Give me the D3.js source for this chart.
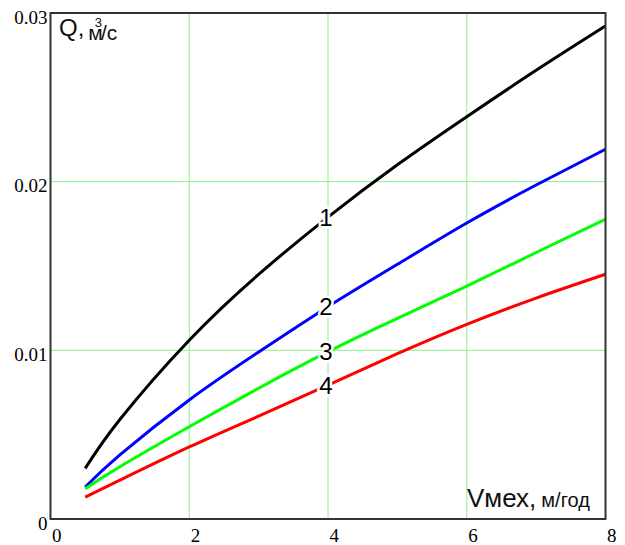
<!DOCTYPE html>
<html>
<head>
<meta charset="utf-8">
<script src="https://cdn.jsdelivr.net/npm/d3@7"></script>
<style>
  body { margin: 0; background: #fff; }
  svg { display: block; }
</style>
</head>
<body>
<div id="chart"></div>
<script>
// values
let vValues = [0.5, 1, 2, 3, 4, 5, 6, 7, 8];
let q1 = [0.0030, 0.0059, 0.0106, 0.0145, 0.0179, 0.0210, 0.02385, 0.0266, 0.02923];
let q2 = [0.0019, 0.0038, 0.00706, 0.0099, 0.01259, 0.0151, 0.01755, 0.0198, 0.02192];
let q3 = [0.0018, 0.0031, 0.00547, 0.00775, 0.00992, 0.0119, 0.01381, 0.0158, 0.01777];
let q4 = [0.0013, 0.0023, 0.00427, 0.0061, 0.00794, 0.0098, 0.01154, 0.0131, 0.01451];
let seriesNames = ['1', '2', '3', '4'];
let seriesColors = ['#000000', '#0000ff', '#00ff00', '#ff0000'];
let xTicks = [0, 2, 4, 6, 8];
let yTicks = [0, 0.01, 0.02, 0.03];
let labelAt = 4; // curve numbers sit at V = 4

let width = 625, height = 545;
let margin = { top: 13, left: 50.5, right: 19.5, bottom: 26 };
let serif = "'Liberation Serif', 'Times New Roman', Times, 'DejaVu Serif', serif";
let sans = "'Liberation Sans', Arial, sans-serif";

let svg = d3.select('#chart')
  .append('svg')
  .attr('width', width)
  .attr('height', height);

let xScale = d3.scaleLinear()
  .domain([0, 8])
  .range([margin.left, width - margin.right]);

let yScale = d3.scaleLinear()
  .domain([0, 0.03])
  .range([height - margin.bottom, margin.top]);

// grid lines (inner only)
svg.append('g')
  .selectAll('line')
  .data(xTicks.slice(1, -1))
  .join('line')
    .attr('x1', d => xScale(d)).attr('x2', d => xScale(d))
    .attr('y1', yScale(0)).attr('y2', yScale(0.03))
    .style('stroke', '#8cf08c')
    .style('stroke-width', 1);

svg.append('g')
  .selectAll('line')
  .data(yTicks.slice(1, -1))
  .join('line')
    .attr('x1', xScale(0)).attr('x2', xScale(8))
    .attr('y1', d => yScale(d)).attr('y2', d => yScale(d))
    .style('stroke', '#8cf08c')
    .style('stroke-width', 1);

// tick labels, Mathcad style
let xAxis = d3.axisBottom(xScale).tickValues(xTicks).tickSize(0).tickFormat(d3.format('d'));
let gx = svg.append('g')
  .attr('transform', 'translate(0,' + yScale(0) + ')')
  .call(xAxis);
gx.select('.domain').remove();
gx.selectAll('text')
  .attr('y', 23)
  .attr('dy', 0)
  .attr('x', 1)
  .attr('text-anchor', 'start')
  .attr('style', 'font-family: ' + serif + '; font-size: 19px; fill: #000;');

let yAxis = d3.axisLeft(yScale).tickValues(yTicks).tickSize(0)
  .tickFormat(d => d === 0 ? '0' : d3.format('.2f')(d));
let gy = svg.append('g')
  .attr('transform', 'translate(' + xScale(0) + ',0)')
  .call(yAxis);
gy.select('.domain').remove();
gy.selectAll('text')
  .attr('x', -3)
  .attr('dy', 10)
  .attr('style', 'font-family: ' + serif + '; font-size: 19px; fill: #000;');

// curves
let allSeries = [q1, q2, q3, q4];
let line = d3.line()
  .x(d => xScale(d.x))
  .y(d => yScale(d.y))
  .curve(d3.curveNatural);

allSeries.forEach(function(vals, i) {
  let xy = [];
  for (let j = 0; j < vValues.length; j++) {
    xy.push({x: vValues[j], y: vals[j]});
  }
  svg.append('path')
    .attr('d', line(xy))
    .style('fill', 'none')
    .style('stroke', seriesColors[i])
    .style('stroke-width', 3);
});

// curve numbers with white halo breaking the lines
allSeries.forEach(function(vals, i) {
  let k = vValues.indexOf(labelAt);
  svg.append('text')
    .attr('x', xScale(labelAt) - 2)
    .attr('y', yScale(vals[k]))
    .attr('dy', '0.36em')
    .attr('text-anchor', 'middle')
    .style('font-family', sans)
    .style('font-size', '24px')
    .style('fill', '#000')
    .style('stroke', '#fff')
    .style('stroke-width', 5)
    .style('paint-order', 'stroke')
    .text(seriesNames[i]);
});

// frame
svg.append('rect')
  .attr('x', xScale(0))
  .attr('y', yScale(0.03))
  .attr('width', xScale(8) - xScale(0))
  .attr('height', yScale(0) - yScale(0.03))
  .style('fill', 'none')
  .style('stroke', '#333')
  .style('stroke-width', 2);

// axis titles
let qTitle = svg.append('text')
  .attr('x', 59)
  .attr('y', 36)
  .style('font-family', sans)
  .style('fill', '#111');
qTitle.append('tspan').style('font-size', '24px').text('Q,');
qTitle.append('tspan').attr('dx', 4).attr('dy', 4).style('font-size', '21px').text('м');
qTitle.append('tspan').attr('dx', -8).attr('dy', -13).style('font-size', '13px').text('3');
qTitle.append('tspan').attr('dx', -1).attr('dy', 13).style('font-size', '21px').text('/с');

let vTitle = svg.append('text')
  .attr('x', 467)
  .attr('y', 507)
  .style('font-family', sans)
  .style('fill', '#111');
vTitle.append('tspan').style('font-size', '26px').text('Vмех,');
vTitle.append('tspan').attr('dx', 5).style('font-size', '20px').text('м/год');
</script>
</body>
</html>
